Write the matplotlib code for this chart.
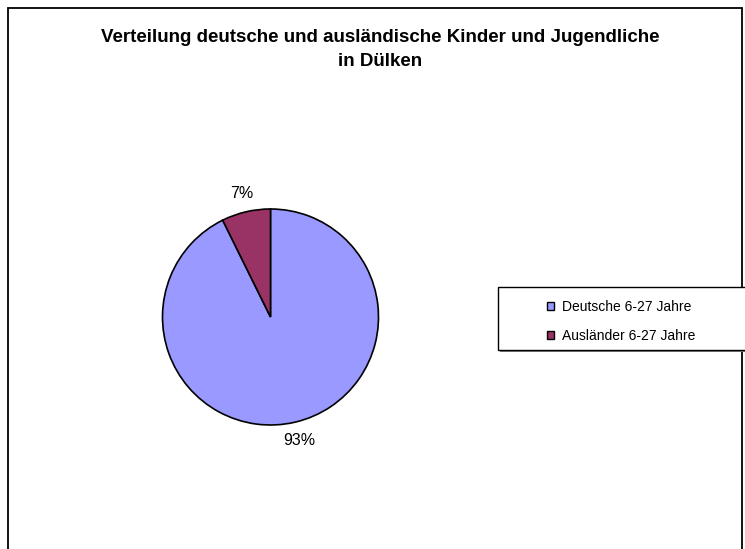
import matplotlib
matplotlib.use("Agg")
import matplotlib.pyplot as plt
from matplotlib.patches import Rectangle

plt.rcParams['font.family'] = ['Liberation Sans', 'DejaVu Sans']

title_lines = ["Verteilung deutsche und ausländische Kinder und Jugendliche", "in Dülken"]
categories = ["Deutsche 6-27 Jahre", "Ausländer 6-27 Jahre"]
values = [92.7, 7.3]
colors = ["#9999FF", "#993366"]

W, H = 745, 549
fig = plt.figure(figsize=(W / 100, H / 100), dpi=100)

# outer chart border (bottom runs off the image)
fig.patches.append(Rectangle((8 / W, -0.05), 734 / W, 1.05 - 8 / H,
                             transform=fig.transFigure, fill=False,
                             edgecolor="black", linewidth=1.3))

for i, line in enumerate(title_lines):
    fig.text(380 / W, 1 - (41.5 + 25 * i) / H, line, ha="center", va="baseline",
             fontsize=13.5, fontweight="bold")

cx, cy, r = 270.5, 317, 108
ax = fig.add_axes([(cx - r) / W, 1 - (cy + r) / H, 2 * r / W, 2 * r / H])
wedges, texts, autotexts = ax.pie(
    values, colors=colors, startangle=90, counterclock=False,
    autopct=lambda p: f"{p:.0f}%", pctdistance=1.17,
    wedgeprops=dict(edgecolor="black", linewidth=1.2),
    textprops=dict(fontsize=11.5, color="black"))
ax.set_xlim(-1, 1)
ax.set_ylim(-1, 1)
ax.set_aspect("equal")
ax.axis("off")
for t in autotexts:
    t.set_clip_on(False)

# legend box with shadow
lx0, ly0, lx1, ly1 = 498, 287, 760, 350
fig.patches.append(Rectangle(((lx0 + 2) / W, 1 - (ly1 + 2) / H), (lx1 - lx0) / W, (ly1 - ly0) / H,
                             transform=fig.transFigure, facecolor="#808080",
                             edgecolor="none", zorder=1))
fig.patches.append(Rectangle((lx0 / W, 1 - ly1 / H), (lx1 - lx0) / W, (ly1 - ly0) / H,
                             transform=fig.transFigure, facecolor="white",
                             edgecolor="black", linewidth=1.0, zorder=2))
leg = fig.legend(wedges, categories, loc="upper left",
                 bbox_to_anchor=(542.5 / W, 1 - 296 / H), frameon=False,
                 fontsize=10, handlelength=0.55, handleheight=0.55,
                 handletextpad=0.55, labelspacing=1.07, borderpad=0.3,
                 borderaxespad=0)
for h in leg.legend_handles:
    h.set_linewidth(1.0)
leg.set_zorder(3)

fig.savefig("out.png", dpi=100)
